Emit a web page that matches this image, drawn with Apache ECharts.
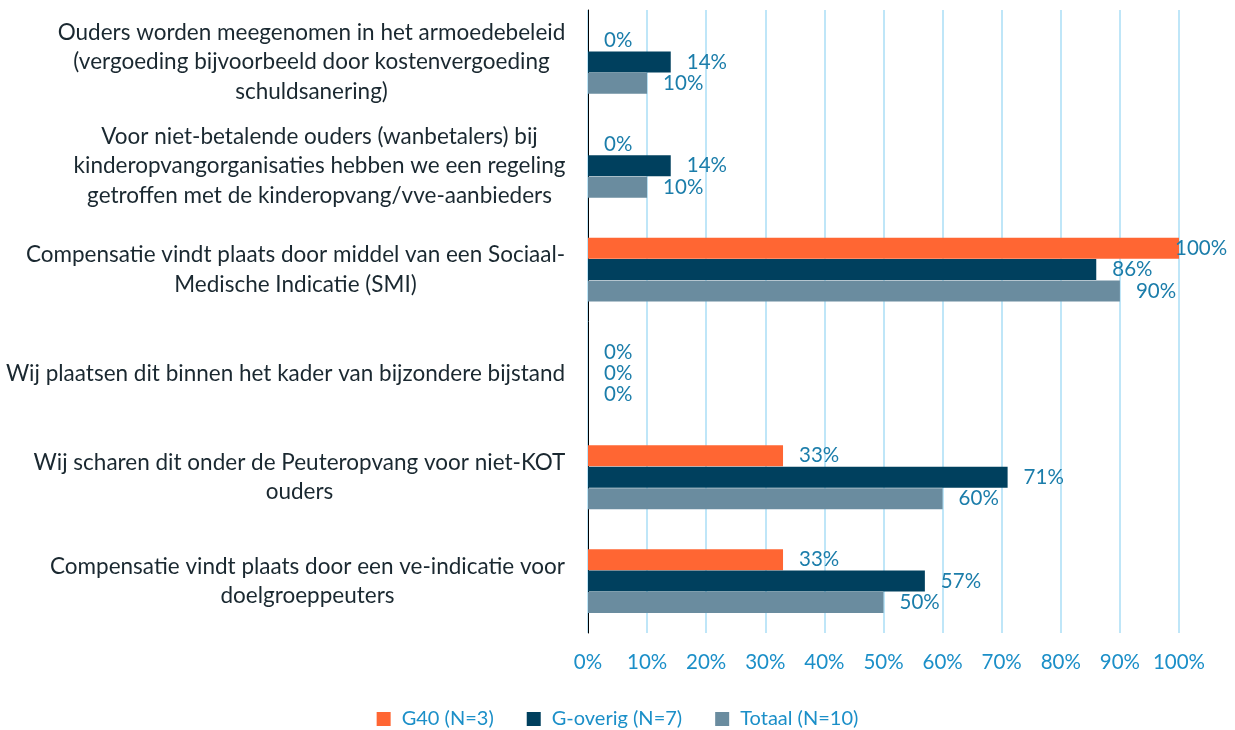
<!DOCTYPE html>
<html>
<head>
<meta charset="utf-8">
<script src="https://cdn.jsdelivr.net/npm/echarts@6/dist/echarts.min.js"></script>
<style>
html, body { margin: 0; padding: 0; background: #fff; }
#chart { width: 1235px; height: 730px; }
</style>
</head>
<body>
<div id="chart"></div>
<script>
var categories = [
	'Ouders worden meegenomen in het armoedebeleid\n(vergoeding bijvoorbeeld door kostenvergoeding\nschuldsanering)',
	'Voor niet-betalende ouders (wanbetalers) bij\nkinderopvangorganisaties hebben we een regeling\ngetroffen met de kinderopvang/vve-aanbieders',
	'Compensatie vindt plaats door middel van een Sociaal-\nMedische Indicatie (SMI)',
	'Wij plaatsen dit binnen het kader van bijzondere bijstand',
	'Wij scharen dit onder de Peuteropvang voor niet-KOT\nouders',
	'Compensatie vindt plaats door een ve-indicatie voor\ndoelgroeppeuters'
];
var seriesNames = ['G40 (N=3)', 'G-overig (N=7)', 'Totaal (N=10)'];
var g40 = [0, 0, 100, 0, 33, 33];
var gOverig = [14, 14, 86, 0, 71, 57];
var totaal = [10, 10, 90, 0, 60, 50];
var xTicks = [0, 10, 20, 30, 40, 50, 60, 70, 80, 90, 100];

var FONT = 'Lato';
var CAT_SIZE = 22.5;
var colors = ['#FF6633', '#00405E', '#6A8C9F'];

// measure the widest line of each label so lines can be centred in their block
var ctx = document.createElement('canvas').getContext('2d');
ctx.font = CAT_SIZE + 'px ' + FONT;
var rich = {};
categories.forEach(function (c, i) {
	var w = 0;
	c.split('\n').forEach(function (l) { w = Math.max(w, ctx.measureText(l).width); });
	rich['c' + i] = { width: Math.ceil(w) + 1, align: 'center', fontSize: CAT_SIZE, fontFamily: FONT, color: '#1A2830', lineHeight: 29.5 };
});

function mkData(arr) {
	return arr.map(function (v) {
		if (v === 100) return { value: v, label: { distance: -4 } };
		return v;
	});
}

var valueLabel = {
	show: true,
	position: 'right',
	distance: 16,
	formatter: '{c}%',
	color: '#1B7DAA',
	fontSize: 20.5,
	fontFamily: FONT
};

var dom = document.getElementById('chart');
var myChart = echarts.init(dom);
var option = {
	animation: false,
	color: colors,
	grid: { left: 588, right: 56, top: 10, bottom: 97 },
	legend: {
		top: 704,
		left: 'center',
		itemWidth: 14,
		itemHeight: 14,
		itemGap: 33,
		icon: 'rect',
		textStyle: { color: '#1B8FC8', fontSize: 20, fontFamily: FONT, padding: [0, 0, 0, 6] },
		data: seriesNames
	},
	xAxis: {
		type: 'value',
		min: 0,
		max: 100,
		interval: 10,
		axisLine: { show: false },
		axisTick: { show: false },
		axisLabel: {
			formatter: function (v) { return xTicks.indexOf(v) >= 0 ? v + '%' : ''; },
			color: '#1B8FC8',
			fontSize: 20.5,
			fontFamily: FONT,
			margin: 19
		},
		splitLine: { lineStyle: { color: '#BFE6F8', width: 2 } }
	},
	yAxis: {
		type: 'category',
		inverse: true,
		data: categories,
		axisLine: { show: true, lineStyle: { color: '#000', width: 1 } },
		axisTick: { show: false },
		axisLabel: {
			margin: 22,
			align: 'right',
			formatter: function (v, i) {
				return v.split('\n').map(function (l) { return '{c' + i + '|' + l + '}'; }).join('\n');
			},
			rich: rich
		}
	},
	series: [
		{ name: seriesNames[0], type: 'bar', data: mkData(g40), barWidth: 21, barGap: '2%', label: valueLabel },
		{ name: seriesNames[1], type: 'bar', data: mkData(gOverig), barWidth: 21, barGap: '2%', label: valueLabel },
		{ name: seriesNames[2], type: 'bar', data: mkData(totaal), barWidth: 21, barGap: '2%', label: valueLabel }
	]
};
myChart.setOption(option, true);
</script>
</body>
</html>
